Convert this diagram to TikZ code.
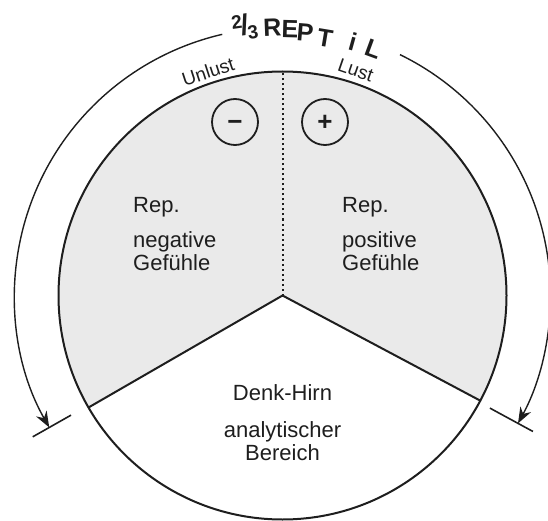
\documentclass[tikz,border=0pt]{standalone}
\usepackage{fontspec}
\setmainfont{Liberation Sans}
\usepackage{tikz}
\usetikzlibrary{arrows.meta,calc}
\definecolor{lobegray}{RGB}{234,234,234}
\definecolor{inkblack}{RGB}{30,30,30}

\begin{document}
\begin{tikzpicture}[
  x=1pt, y=1pt,
  ring/.style={circle, draw=inkblack, line width=2pt, minimum size=448pt, inner sep=0pt, outer sep=0pt},
  sign/.style={circle, draw=inkblack, line width=1.8pt, minimum size=46pt, inner sep=0pt,
    text height=18pt, text depth=0pt, font=\fontsize{26}{26}\selectfont\bfseries, text=inkblack},
  txt/.style={align=left, inner sep=0pt, font=\fontsize{22}{23}\selectfont, text=inkblack},
  side/.style={inner sep=0pt, font=\fontsize{19}{19}\selectfont, text=inkblack},
  hand/.style={inner sep=0pt, font=\fontsize{25}{25}\selectfont\bfseries, text=inkblack},
  sweep/.style={line width=1.4pt, draw=inkblack, -{Stealth[length=16pt,width=12pt]}},
  tick/.style={line width=1.6pt, draw=inkblack}
]
  \useasboundingbox (0,0) rectangle (548,520);
  \coordinate (C) at (282.5,224.5);

  % the two reptile thirds
  \fill[lobegray] (C) -- ($(C)+(-28:224pt)$) arc[start angle=-28, end angle=210, radius=224pt] -- cycle;
  \node[ring] (brain) at (C) {};
  \draw[line width=2pt, inkblack] (brain.210) -- (brain.center) -- (brain.332);
  \draw[line width=2pt, inkblack, dash pattern=on 2pt off 3pt] (brain.center) -- (brain.north);

  \node[sign] (minus) at (235,398) {−};
  \node[sign] (plus) at (325,398) {+};

  \node[txt, anchor=base west] (repneg) at (133,308) {Rep.};
  \node[txt, anchor=base west] (negfeel) at (133,250) {negative\\Gefühle};
  \node[txt, anchor=base west] (reppos) at (342,308) {Rep.};
  \node[txt, anchor=base west] (posfeel) at (342,250) {positive\\Gefühle};
  \node[txt, align=center, anchor=base] (think) at (282.5,120) {Denk-Hirn};
  \node[txt, align=center, anchor=base] (analytic) at (282.5,60) {analytischer\\Bereich};

  \node[side, rotate=18] (unlust) at ($(C)+(108.4:236pt)$) {Unlust};
  \node[side, rotate=-19] (lust) at ($(C)+(72:237pt)$) {Lust};

  % hand lettering along the rim
  \node[hand, rotate=8] (third) at ($(C)+(98:271pt)$)
    {\raisebox{7pt}{\fontsize{19}{19}\selectfont 2}\kern-2pt{\fontsize{29}{29}\selectfont/}\kern-2pt\raisebox{-5pt}{\fontsize{19}{19}\selectfont 3}};
  \foreach \ch/\ang/\rad in {R/92.2/268, E/88.4/266, P/85.1/264, T/80.6/261, i/74.5/263, L/69.8/263}
    \node[hand, rotate=\ang-90] at ($(C)+(\ang:\rad pt)$) {\ch};

  \coordinate (lefttop) at ($(C)+(103:268pt)$);
  \coordinate (righttop) at ($(C)+(64:268pt)$);
  \draw[sweep] (lefttop) arc[start angle=103, end angle=209.5, radius=268pt];
  \draw[sweep] (righttop) arc[start angle=64, end angle=-28.5, radius=268pt];
  \draw[tick] ($(C)+(209.5:243pt)$) -- ($(C)+(209.5:287pt)$);
  \draw[tick] ($(C)+(331.5:236pt)$) -- ($(C)+(331.5:285pt)$);
\end{tikzpicture}
\end{document}
